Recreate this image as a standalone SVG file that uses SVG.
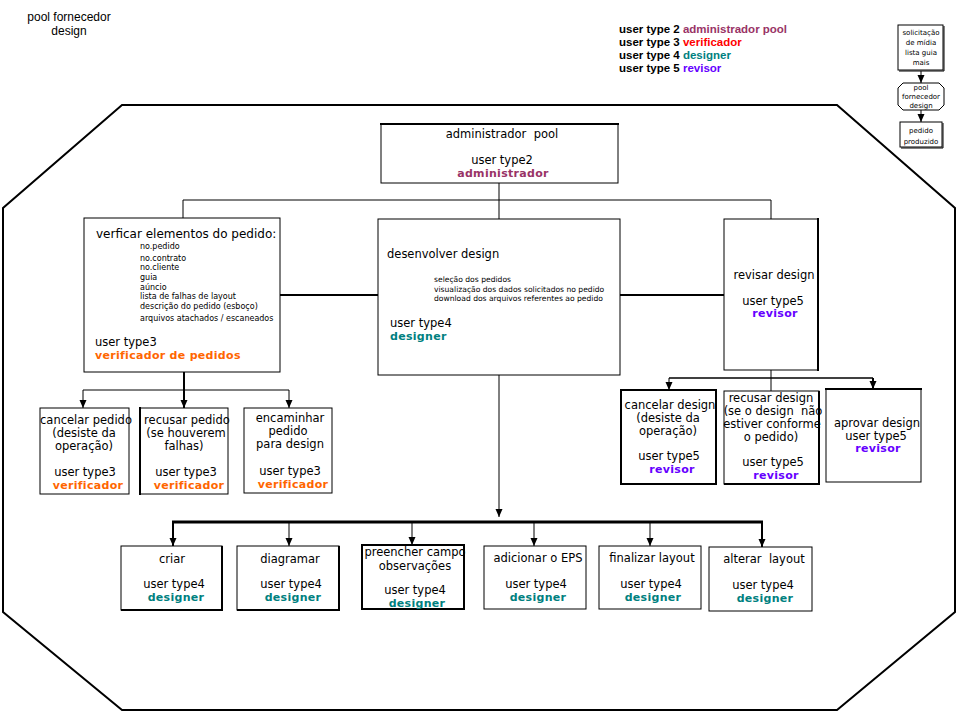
<svg xmlns="http://www.w3.org/2000/svg" width="961" height="714" viewBox="0 0 961 714">
<style>
.bg{fill:#fff}
.box{fill:#fff;stroke:#000;stroke-width:1}
.tk{stroke:#000;stroke-width:2;fill:none}
.ln{stroke:#000;stroke-width:1;fill:none}
.t{font-family:"DejaVu Sans",sans-serif;font-size:11.5px;fill:#000}
.c{text-anchor:middle}
.b{font-weight:bold;font-size:11px;letter-spacing:0.3px}
.s{font-size:8px}
.m{font-size:7.6px}
.xs{font-size:7px}
.lg{font-family:"Liberation Sans",Arial,sans-serif;font-size:11.5px;font-weight:bold;fill:#000}
.adm{fill:#993366}.ver{fill:#ff6600}.des{fill:#008080}.rev{fill:#6600ff}.red{fill:#ff0000}
</style>
<defs>
<marker id="ah" viewBox="0 -4 8 8" refX="8" refY="0" markerWidth="8" markerHeight="8" markerUnits="userSpaceOnUse" orient="auto">
<path d="M0,-3.5 L8,0 L0,3.5 z" fill="#000"/>
</marker>
</defs>
<rect class="bg" x="0" y="0" width="961" height="714"/>

<g id="title">
<text class="t c" x="69" y="21" style="font-family:'Liberation Sans',Arial,sans-serif;font-size:12px">pool fornecedor</text>
<text class="t c" x="69" y="35" style="font-family:'Liberation Sans',Arial,sans-serif;font-size:12px">design</text>
</g>

<g id="legend">
<text class="lg" x="619" y="33">user type 2 <tspan class="adm">administrador pool</tspan></text>
<text class="lg" x="619" y="46">user type 3 <tspan class="red">verificador</tspan></text>
<text class="lg" x="619" y="59">user type 4 <tspan class="des">designer</tspan></text>
<text class="lg" x="619" y="72">user type 5 <tspan class="rev">revisor</tspan></text>
</g>

<g id="miniflow">
<rect class="box" x="898" y="25" width="45" height="45"/>
<path class="ln" d="M944,26 V71 H899"/>
<text class="t c xs" x="921" y="35">solicitação</text>
<text class="t c xs" x="921" y="45">de mídia</text>
<text class="t c xs" x="921" y="55">lista guia</text>
<text class="t c xs" x="921" y="65">mais</text>
<line class="ln" x1="921" y1="71" x2="921" y2="83" marker-end="url(#ah)"/>
<polygon class="box" points="903,83 939,83 944,88 944,105 939,110 903,110 898,105 898,88"/>
<text class="t c xs" x="921" y="90">pool</text>
<text class="t c xs" x="921" y="99">fornecedor</text>
<text class="t c xs" x="921" y="108">design</text>
<line class="ln" x1="921" y1="110" x2="921" y2="122" marker-end="url(#ah)"/>
<rect class="box" x="900" y="122" width="42" height="25"/>
<path class="ln" d="M943,123 V148 H901"/>
<text class="t c xs" x="921" y="133">pedido</text>
<text class="t c xs" x="921" y="144">produzido</text>
</g>

<g id="pool-boundary">
<polygon points="122,105 837,105 955,208 955,612 837,710 122,710 3,612 3,208" fill="none" stroke="#000" stroke-width="2"/>
</g>

<g id="connectors">
<line class="ln" x1="499" y1="183" x2="499" y2="219"/>
<line class="ln" x1="183" y1="200" x2="771" y2="200"/>
<line class="ln" x1="183" y1="200" x2="183" y2="218"/>
<line class="ln" x1="771" y1="200" x2="771" y2="219"/>
<line class="tk" x1="280" y1="295" x2="378" y2="295"/>
<line class="tk" x1="620" y1="295" x2="724" y2="295"/>
<line class="ln" x1="499" y1="375" x2="499" y2="517" marker-end="url(#ah)"/>
<line x1="172" y1="522" x2="763" y2="522" stroke="#000" stroke-width="3"/>
<line class="tk" x1="173" y1="522" x2="173" y2="546" marker-end="url(#ah)"/>
<line class="ln" x1="289" y1="522" x2="289" y2="546" marker-end="url(#ah)"/>
<line class="ln" x1="412" y1="522" x2="412" y2="545" marker-end="url(#ah)"/>
<line class="ln" x1="534" y1="522" x2="534" y2="546" marker-end="url(#ah)"/>
<line class="ln" x1="650" y1="522" x2="650" y2="546" marker-end="url(#ah)"/>
<line class="tk" x1="762" y1="522" x2="762" y2="547" marker-end="url(#ah)"/>
<line class="tk" x1="184" y1="372" x2="184" y2="408" marker-end="url(#ah)"/>
<line class="ln" x1="83" y1="390" x2="289" y2="390"/>
<line class="ln" x1="83" y1="390" x2="83" y2="408" marker-end="url(#ah)"/>
<line class="ln" x1="289" y1="390" x2="289" y2="408" marker-end="url(#ah)"/>
<line class="ln" x1="771" y1="370" x2="771" y2="391"/>
<line x1="669" y1="378" x2="873" y2="378" stroke="#000" stroke-width="1.5"/>
<line class="ln" x1="669" y1="378" x2="669" y2="390" marker-end="url(#ah)"/>
<line class="tk" x1="873" y1="378" x2="873" y2="389" marker-end="url(#ah)"/>
</g>

<g id="admin-pool">
<rect class="box" x="381" y="124" width="237" height="59"/>
<line class="tk" x1="380" y1="124" x2="619" y2="124"/>
<text class="t c" x="502" y="138">administrador&#160; pool</text>
<text class="t c" x="502" y="164">user type2</text>
<text class="t c b adm" x="503" y="177">administrador</text>
</g>

<g id="verificar">
<rect class="box" x="84" y="218" width="196" height="154"/>
<text class="t" x="96" y="238" style="font-size:12px">verficar elementos do pedido:</text>
<text class="t s" x="140" y="249">no.pedido</text>
<text class="t s" x="140" y="261">no.contrato</text>
<text class="t s" x="140" y="270">no.cliente</text>
<text class="t s" x="140" y="280">guia</text>
<text class="t s" x="140" y="290">aúncio</text>
<text class="t s" x="140" y="299">lista de falhas de layout</text>
<text class="t s" x="140" y="309">descrição do pedido (esboço)</text>
<text class="t s" x="140" y="321">arquivos atachados / escaneados</text>
<text class="t" x="95" y="346">user type3</text>
<text class="t b ver" x="95" y="359">verificador de pedidos</text>
</g>

<g id="desenvolver">
<rect class="box" x="378" y="219" width="242" height="156"/>
<text class="t" x="387" y="258">desenvolver design</text>
<text class="t m" x="434" y="282">seleção dos pedidos</text>
<text class="t m" x="434" y="292">visualização dos dados solicitados no pedido</text>
<text class="t m" x="434" y="301">download dos arquivos referentes ao pedido</text>
<text class="t" x="390" y="327">user type4</text>
<text class="t b des" x="390" y="340">designer</text>
</g>

<g id="revisar">
<rect class="box" x="724" y="219" width="94" height="151"/>
<line class="tk" x1="818" y1="218" x2="818" y2="371"/>
<text class="t c" x="774" y="279">revisar design</text>
<text class="t c" x="773" y="305">user type5</text>
<text class="t c b rev" x="775" y="317">revisor</text>
</g>

<g id="cancelar-pedido">
<rect class="box" x="40" y="408" width="89" height="86"/>
<text class="t c" x="86" y="424">cancelar pedido</text>
<text class="t c" x="84" y="437">(desiste da</text>
<text class="t c" x="84" y="450">operação)</text>
<text class="t c" x="85" y="476">user type3</text>
<text class="t c b ver" x="88" y="489">verificador</text>
</g>

<g id="recusar-pedido">
<rect class="box" x="140" y="408" width="88" height="86"/>
<line class="tk" x1="140" y1="407" x2="140" y2="495"/>
<text class="t c" x="187" y="424">recusar pedido</text>
<text class="t c" x="186" y="437">(se houverem</text>
<text class="t c" x="184" y="450">falhas)</text>
<text class="t c" x="186" y="476">user type3</text>
<text class="t c b ver" x="189" y="489">verificador</text>
</g>

<g id="encaminhar">
<rect class="box" x="244" y="408" width="88" height="85"/>
<text class="t c" x="290" y="422">encaminhar</text>
<text class="t c" x="288" y="435">pedido</text>
<text class="t c" x="290" y="448">para design</text>
<text class="t c" x="290" y="475">user type3</text>
<text class="t c b ver" x="293" y="488">verificador</text>
</g>

<g id="cancelar-design">
<rect x="621" y="390" width="95" height="94" fill="#fff" stroke="#000" stroke-width="2"/>
<text class="t c" x="670" y="409">cancelar design</text>
<text class="t c" x="668" y="422">(desiste da</text>
<text class="t c" x="668" y="435">operação)</text>
<text class="t c" x="669" y="460">user type5</text>
<text class="t c b rev" x="672" y="473">revisor</text>
</g>

<g id="recusar-design">
<rect class="box" x="724" y="391" width="95" height="93"/>
<path class="tk" d="M724,484 H819 V391"/>
<text class="t c" x="771" y="402">recusar design</text>
<text class="t c" x="773" y="415">(se o design&#160; não</text>
<text class="t c" x="772" y="428">estiver conforme</text>
<text class="t c" x="771" y="441">o pedido)</text>
<text class="t c" x="773" y="466">user type5</text>
<text class="t c b rev" x="776" y="479">revisor</text>
</g>

<g id="aprovar-design">
<rect class="box" x="826" y="389" width="95" height="93"/>
<line class="tk" x1="825" y1="389" x2="922" y2="389"/>
<text class="t c" x="877" y="427">aprovar design</text>
<text class="t c" x="876" y="440">user type5</text>
<text class="t c b rev" x="878" y="452">revisor</text>
</g>

<g id="criar">
<rect class="box" x="121" y="546" width="101" height="64"/>
<path class="tk" d="M121,610 H222 V546"/>
<text class="t c" x="172" y="563">criar</text>
<text class="t c" x="174" y="588">user type4</text>
<text class="t c b des" x="176" y="601">designer</text>
</g>

<g id="diagramar">
<rect class="box" x="237" y="546" width="102" height="64"/>
<path class="tk" d="M237,610 H339 V546"/>
<text class="t c" x="290" y="563">diagramar</text>
<text class="t c" x="291" y="588">user type4</text>
<text class="t c b des" x="293" y="601">designer</text>
</g>

<g id="preencher">
<rect x="362" y="545" width="102" height="64" fill="#fff" stroke="#000" stroke-width="2"/>
<text class="t c" x="415" y="556">preencher campo</text>
<text class="t c" x="415" y="570">observações</text>
<text class="t c" x="415" y="594">user type4</text>
<text class="t c b des" x="417" y="607">designer</text>
</g>

<g id="adicionar">
<rect class="box" x="484" y="546" width="102" height="63"/>
<text class="t c" x="538" y="562">adicionar o EPS</text>
<text class="t c" x="536" y="588">user type4</text>
<text class="t c b des" x="538" y="601">designer</text>
</g>

<g id="finalizar">
<rect class="box" x="599" y="546" width="102" height="63"/>
<text class="t c" x="652" y="562">finalizar layout</text>
<text class="t c" x="651" y="588">user type4</text>
<text class="t c b des" x="653" y="601">designer</text>
</g>

<g id="alterar">
<rect class="box" x="709" y="547" width="103" height="64"/>
<text class="t c" x="764" y="563">alterar&#160; layout</text>
<text class="t c" x="763" y="589">user type4</text>
<text class="t c b des" x="765" y="602">designer</text>
</g>
</svg>
